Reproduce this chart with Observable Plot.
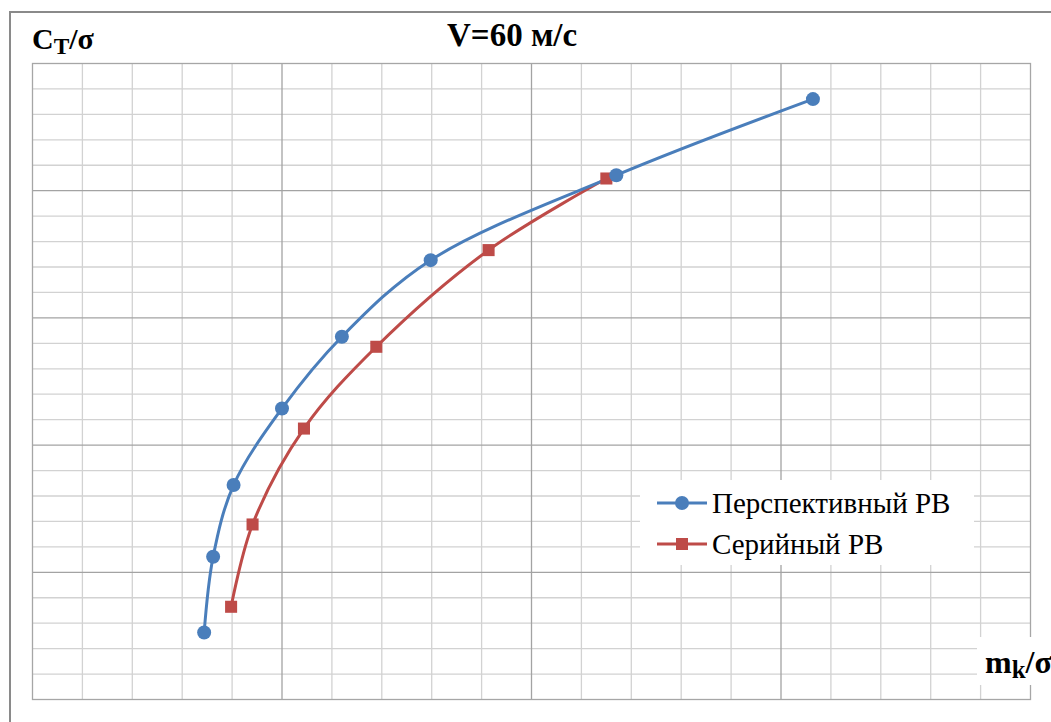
<!DOCTYPE html>
<html>
<head>
<meta charset="utf-8">
<script src="https://cdn.jsdelivr.net/npm/d3@7"></script>
<script src="https://cdn.jsdelivr.net/npm/@observablehq/plot@0.6"></script>
<style>
  html, body { margin: 0; padding: 0; background: #fff; overflow: hidden; }
  #chart { position: relative; width: 1051px; height: 722px; overflow: hidden;
           font-family: "Liberation Serif", "Times New Roman", serif; color: #000; }
  #border { position: absolute; left: 9px; top: 11px; width: 1200px; height: 900px;
            border: 2px solid #8a8a8a; box-sizing: border-box; }
  #plot { position: absolute; left: 0; top: 0; }
  .lbl { position: absolute; font-weight: bold; white-space: nowrap; line-height: 1; }
  .sub { position: relative; font-size: 0.78em; top: 0.22em; }
  #legend { position: absolute; left: 640px; top: 480px; width: 334px; height: 85px; background: #fff; }
  .row { position: absolute; left: 17px; height: 42px; }
  .row svg { position: absolute; left: 0; top: 0; }
  .row span { position: absolute; left: 55px; font-size: 29px; line-height: 1; white-space: nowrap; }
</style>
</head>
<body>
<div id="chart">
  <div id="border"></div>
  <div id="plot"></div>
  <div class="lbl" style="left:447px; top:19px; font-size:33px;">V=60 м/с</div>
  <div class="lbl" style="left:32px; top:24px; font-size:30px;">C<span class="sub">T</span>/σ</div>
  <div class="lbl" style="left:977px; top:637px; height:48px; width:90px; background:#fff; font-size:32px;">
    <div style="position:absolute; left:8px; top:9px;">m<span class="sub">k</span>/σ</div>
  </div>
  <div id="legend"></div>
</div>
<script>
// Series names and colours
const seriesNames = ["Перспективный РВ", "Серийный РВ"];
const seriesColors = ["#4a7ebb", "#be4b48"];

// Перспективный РВ: m_k/σ and C_T/σ
const perspX = [0.688, 0.724, 0.806, 1.0, 1.24, 1.596, 2.34, 3.128];
const perspY = [0.527, 1.122, 1.686, 2.288, 2.852, 3.454, 4.122, 4.72];

// Серийный РВ
const serialX = [0.796, 0.882, 1.088, 1.378, 1.828, 2.30];
const serialY = [0.729, 1.376, 2.130, 2.773, 3.533, 4.096];

// Grid lines (the chart carries no tick labels)
const xMinor = [0.2, 0.4, 0.6, 0.8, 1.2, 1.4, 1.6, 1.8, 2.2, 2.4, 2.6, 2.8, 3.2, 3.4, 3.6, 3.8];
const xMajor = [1, 2, 3];
const yMinor = [0.2, 0.4, 0.6, 0.8, 1.2, 1.4, 1.6, 1.8, 2.2, 2.4, 2.6, 2.8, 3.2, 3.4, 3.6, 3.8, 4.2, 4.4, 4.6, 4.8];
const yMajor = [1, 2, 3, 4];
const xDomain = [0, 4];
const yDomain = [0, 5];

const persp = perspX.map((x, i) => ({x, y: perspY[i]}));
const serial = serialX.map((x, i) => ({x, y: serialY[i]}));

const plot = Plot.plot({
  width: 1051,
  height: 722,
  marginLeft: 32,
  marginRight: 21,
  marginTop: 63,
  marginBottom: 23,
  x: {domain: xDomain, axis: null},
  y: {domain: yDomain, axis: null},
  style: {background: "transparent"},
  marks: [
    Plot.ruleX(xMinor, {stroke: "#d2d2d2", strokeWidth: 1.3}),
    Plot.ruleY(yMinor, {stroke: "#d2d2d2", strokeWidth: 1.3}),
    Plot.ruleX(xMajor, {stroke: "#a3a3a3", strokeWidth: 1.3}),
    Plot.ruleY(yMajor, {stroke: "#a3a3a3", strokeWidth: 1.3}),
    Plot.frame({stroke: "#a6a6a6", strokeWidth: 1.3}),
    Plot.line(serial, {x: "x", y: "y", curve: "catmull-rom", stroke: seriesColors[1], strokeWidth: 3}),
    Plot.line(persp, {x: "x", y: "y", curve: "catmull-rom", stroke: seriesColors[0], strokeWidth: 3}),
    Plot.dot(serial, {x: "x", y: "y", symbol: "square", r: 6.8, fill: seriesColors[1], stroke: "none"}),
    Plot.dot(persp, {x: "x", y: "y", symbol: "circle", r: 7, fill: seriesColors[0], stroke: "none"})
  ]
});
document.getElementById("plot").appendChild(plot);

// Legend: line sample with marker, then the series name
const legend = document.getElementById("legend");
seriesNames.forEach((name, i) => {
  const row = document.createElement("div");
  row.className = "row";
  row.style.top = (2 + i * 41) + "px";
  row.style.width = "320px";
  const marker = i === 0
    ? `<circle cx="25" cy="21" r="7" fill="${seriesColors[i]}"/>`
    : `<rect x="19" y="15" width="12" height="12" fill="${seriesColors[i]}"/>`;
  row.innerHTML =
    `<svg width="52" height="42"><line x1="0" x2="50" y1="21" y2="21" stroke="${seriesColors[i]}" stroke-width="3"/>${marker}</svg>` +
    `<span style="top:7px;">${name}</span>`;
  legend.appendChild(row);
});
</script>
</body>
</html>
